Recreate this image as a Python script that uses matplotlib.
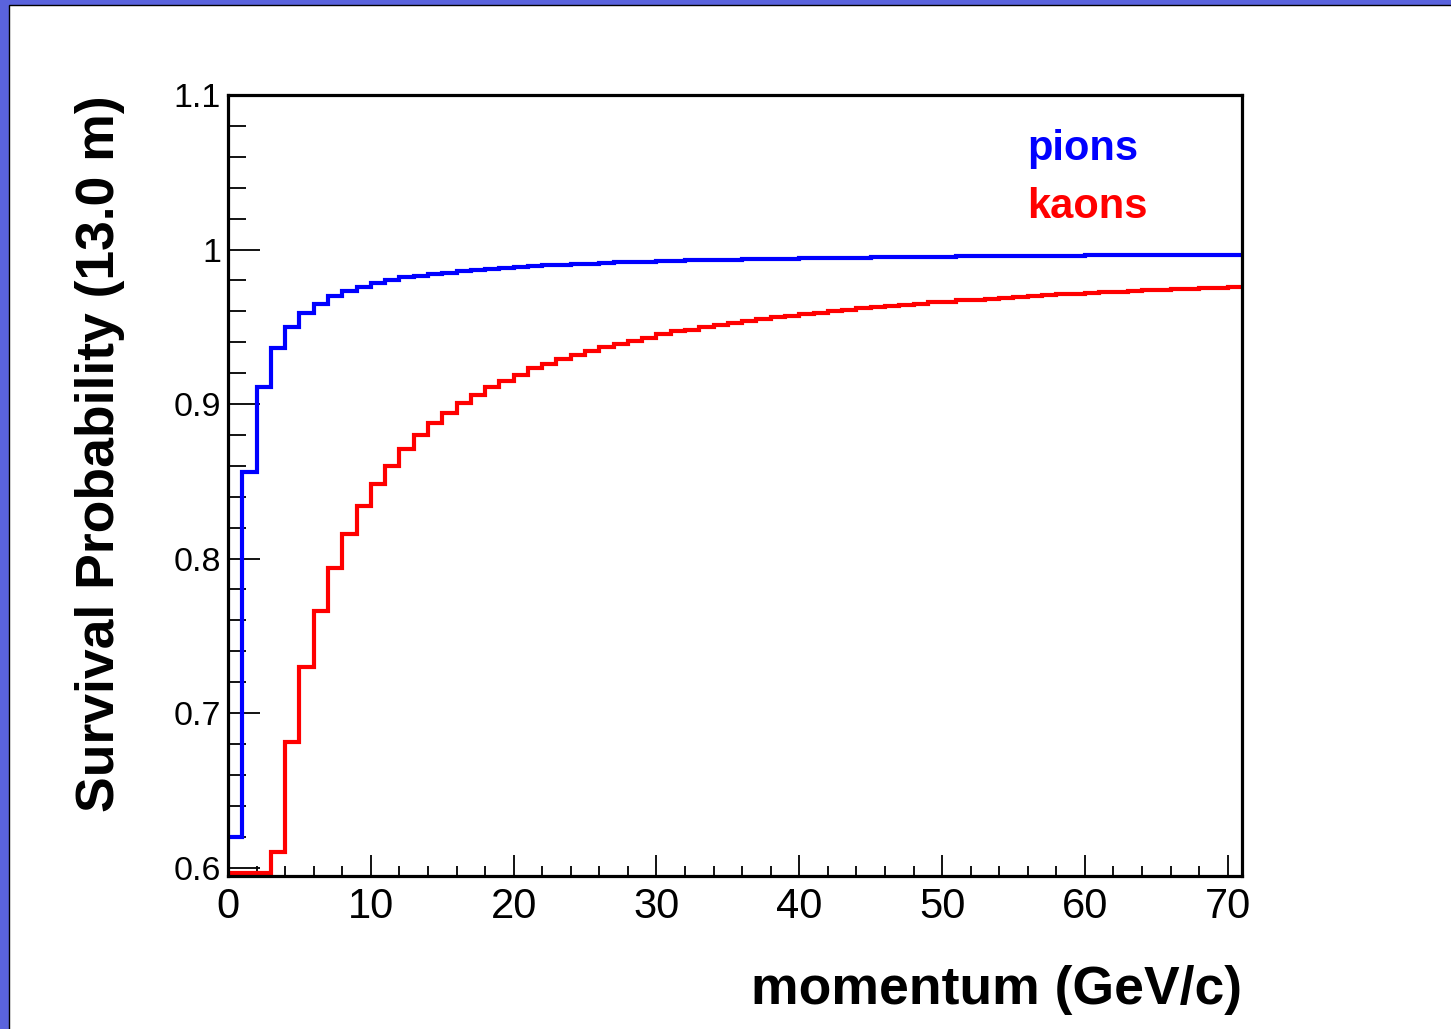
import numpy as np
import matplotlib
matplotlib.use("Agg")
import matplotlib.pyplot as plt
from matplotlib.patches import Rectangle
from matplotlib.ticker import MultipleLocator, FixedLocator, FixedFormatter

# ---- data (bins of 1 GeV/c from 0 to 71) ----
bin_edges = list(range(0, 72))
pions = [0.620, 0.856, 0.911, 0.936, 0.950, 0.959, 0.965, 0.970, 0.973, 0.976,
         0.978, 0.980, 0.982, 0.983, 0.984, 0.985, 0.986, 0.987, 0.9875, 0.988,
         0.9887, 0.9892, 0.9897, 0.9902, 0.9906, 0.9909, 0.9913, 0.9916, 0.9919, 0.9922,
         0.9924, 0.9926, 0.9929, 0.9931, 0.9933, 0.9935, 0.9937, 0.9938, 0.9940, 0.9941,
         0.9943, 0.9944, 0.9945, 0.9947, 0.9948, 0.9949, 0.9950, 0.9951, 0.9952, 0.9953,
         0.9954, 0.9955, 0.9956, 0.9957, 0.9957, 0.9958, 0.9959, 0.9960, 0.9960, 0.9961,
         0.9962, 0.9962, 0.9963, 0.9963, 0.9964, 0.9965, 0.9965, 0.9966, 0.9966, 0.9967,
         0.9967]
kaons = [0.032, 0.316, 0.501, 0.610, 0.681, 0.730, 0.766, 0.794, 0.816, 0.834,
         0.848, 0.860, 0.871, 0.880, 0.888, 0.894, 0.9005, 0.906, 0.911, 0.915,
         0.919, 0.923, 0.926, 0.929, 0.932, 0.934, 0.937, 0.939, 0.941, 0.943,
         0.945, 0.947, 0.948, 0.950, 0.951, 0.9525, 0.954, 0.955, 0.956, 0.957,
         0.958, 0.959, 0.960, 0.961, 0.962, 0.9627, 0.9635, 0.9643, 0.965, 0.9657,
         0.9663, 0.967, 0.9676, 0.9682, 0.9688, 0.9693, 0.9699, 0.9704, 0.9709, 0.9714,
         0.9718, 0.9723, 0.9727, 0.9731, 0.9735, 0.9739, 0.9743, 0.9747, 0.9751, 0.9754,
         0.9758]
x_ticks = [0, 10, 20, 30, 40, 50, 60, 70]
x_ticklabels = ["0", "10", "20", "30", "40", "50", "60", "70"]
y_ticks = [0.6, 0.7, 0.8, 0.9, 1.0, 1.1]
y_ticklabels = ["0.6", "0.7", "0.8", "0.9", "1", "1.1"]
series_names = ["pions", "kaons"]
series_colors = ["#0000FF", "#FF0000"]

plt.rcParams['font.family'] = ['Liberation Sans', 'DejaVu Sans']

W, H = 1451, 1029
fig = plt.figure(figsize=(W / 100, H / 100), dpi=100)
fig.patch.set_facecolor('#5A63DD')
bg = Rectangle((9 / W, -0.1), 1.2, 1.1 - 5 / H, transform=fig.transFigure,
               facecolor='white', edgecolor='black', lw=1.0, zorder=-10)
fig.add_artist(bg)

ax = fig.add_axes([228 / W, 1 - 876 / H, (1242 - 228) / W, (876 - 95) / H])
ax.set_zorder(5)
ax.set_facecolor('white')
ymin, ymax = 0.5945, 1.1
xmin, xmax = 0, 71
ax.set_xlim(xmin, xmax)
ax.set_ylim(ymin, ymax)

edges = np.array(bin_edges, dtype=float)
floor = ymin + 0.0018
for vals, col in zip([pions, kaons], series_colors):
    v = np.clip(np.array(vals), floor, None)
    ax.stairs(v, edges, baseline=None, color=col, lw=3.0, zorder=3)

for s in ['top', 'right', 'left', 'bottom']:
    ax.spines[s].set_linewidth(2.3)
    ax.spines[s].set_color('black')
    ax.spines[s].set_zorder(5)

ax.xaxis.set_major_locator(FixedLocator(x_ticks))
ax.xaxis.set_major_formatter(FixedFormatter(x_ticklabels))
ax.xaxis.set_minor_locator(MultipleLocator(2))
ax.yaxis.set_major_locator(FixedLocator(y_ticks))
ax.yaxis.set_major_formatter(FixedFormatter(y_ticklabels))
ax.yaxis.set_minor_locator(MultipleLocator(0.02))

ax.tick_params(axis='x', which='major', direction='in', length=15, width=1.3,
               labelsize=30, pad=8, top=False)
ax.tick_params(axis='x', which='minor', direction='in', length=7, width=1.3, top=False)
ax.tick_params(axis='y', which='major', direction='in', length=23, width=1.3,
               labelsize=24.5, pad=5, right=False)
ax.tick_params(axis='y', which='minor', direction='in', length=13, width=1.3, right=False)

ax.set_xlabel("momentum (GeV/c)", fontsize=38.5, fontweight='bold', loc='right', labelpad=27)
ax.set_ylabel("Survival Probability (13.0 m)", fontsize=38.5, fontweight='bold', loc='top',
              labelpad=35)

ax.text(1027 / W, 1 - 160 / H, series_names[0], transform=fig.transFigure,
        color=series_colors[0], fontsize=30, fontweight='bold', ha='left', va='baseline',
        zorder=10)
ax.text(1027 / W, 1 - 218 / H, series_names[1], transform=fig.transFigure,
        color=series_colors[1], fontsize=30, fontweight='bold', ha='left', va='baseline',
        zorder=10)

fig.savefig("out.png", dpi=100, facecolor=fig.get_facecolor())
